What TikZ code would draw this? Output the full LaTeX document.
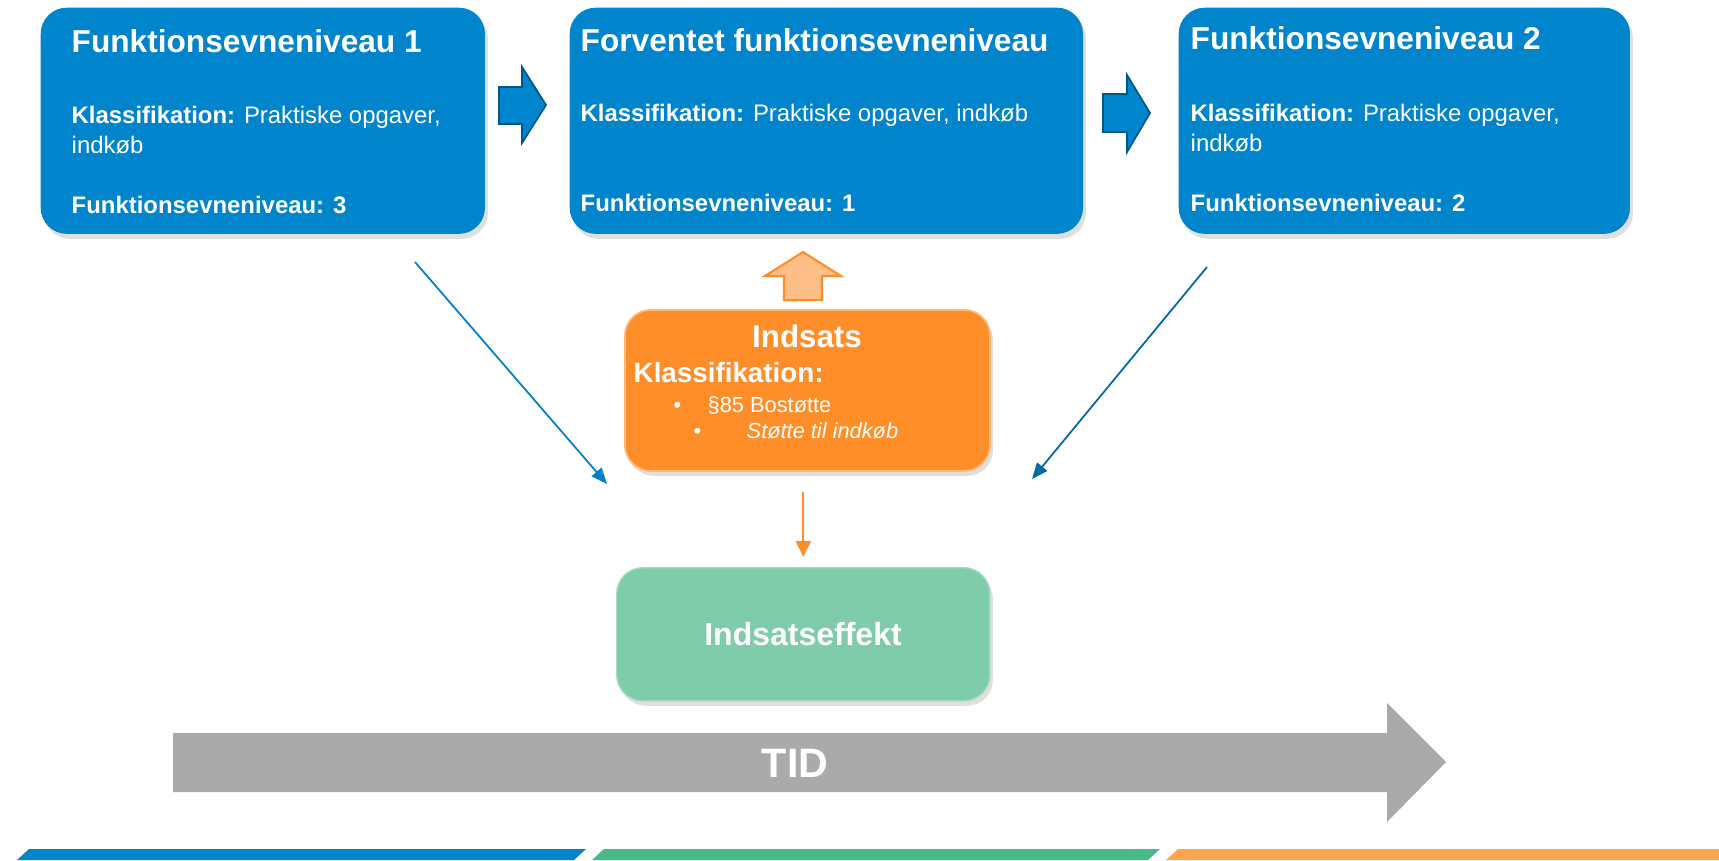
\documentclass[tikz,border=0pt]{standalone}
\usepackage{fontspec}
\setmainfont{Liberation Sans}
\usetikzlibrary{positioning, arrows.meta, shadows}

\definecolor{fnblue}{RGB}{0,133,204}
\definecolor{fndark}{RGB}{0,86,140}
\definecolor{lineblue}{RGB}{0,128,200}
\definecolor{linedark}{RGB}{0,104,164}
\definecolor{indorange}{RGB}{255,142,40}
\definecolor{indborder}{RGB}{255,184,120}
\definecolor{lightorange}{RGB}{255,190,135}
\definecolor{effgreen}{RGB}{126,204,170}
\definecolor{tidgray}{RGB}{170,170,170}
\definecolor{bandgreen}{RGB}{72,185,136}
\definecolor{bandorange}{RGB}{255,166,82}

\tikzset{
>={Triangle[length=0.16cm, width=0.13cm]}, % filled triangle heads
roundbox/.style={inner sep=0pt, rounded corners=0.26cm, anchor=north west,
  drop shadow={shadow xshift=0.03cm, shadow yshift=-0.05cm, opacity=0.25}}, % every box
fnbox/.style={roundbox, fill=fnblue, minimum height=2.26cm}, % the three level boxes
fntitle/.style={anchor=base west, inner sep=0pt, text=white, font=\bfseries\fontsize{9}{11}\selectfont},
fntext/.style={anchor=base west, inner sep=0pt, text=white, font=\fontsize{6.8}{8}\selectfont},
blockarrow/.style={fill=fnblue, draw=fndark, line width=0.5pt},
levelline/.style={->, line width=0.5pt},
}

\begin{document}
\begin{tikzpicture}[x=0.01cm, y=-0.01cm]
    \useasboundingbox (0,0) rectangle (1719,860);

    % Funktionsevneniveau 1
    \node[fnbox, minimum width=4.44cm] (fn1) at (40,7) {};
    \node[fntitle] (fn1title) at (71,52) {Funktionsevneniveau 1};
    \node[fntext] (fn1klas) at (71,123) {\textbf{Klassifikation:} Praktiske opgaver,};
    \node[fntext] (fn1ind) at (71,153) {indkøb};
    \node[fntext, font=\bfseries\fontsize{6.8}{8}\selectfont] (fn1niv) at (71,213) {Funktionsevneniveau: 3};

    % Forventet funktionsevneniveau
    \node[fnbox, minimum width=5.13cm] (fnexp) at (569,7) {};
    \node[fntitle] (fnexptitle) at (580,51) {Forventet funktionsevneniveau};
    \node[fntext] (fnexpklas) at (580,121) {\textbf{Klassifikation:} Praktiske opgaver, indkøb};
    \node[fntext, font=\bfseries\fontsize{6.8}{8}\selectfont] (fnexpniv) at (580,211) {Funktionsevneniveau: 1};

    % Funktionsevneniveau 2
    \node[fnbox, minimum width=4.51cm] (fn2) at (1178,7) {};
    \node[fntitle] (fn2title) at (1190,49) {Funktionsevneniveau 2};
    \node[fntext] (fn2klas) at (1190,121) {\textbf{Klassifikation:} Praktiske opgaver,};
    \node[fntext] (fn2ind) at (1190,151) {indkøb};
    \node[fntext, font=\bfseries\fontsize{6.8}{8}\selectfont] (fn2niv) at (1190,211) {Funktionsevneniveau: 2};

    % block arrows between the levels
    \draw[blockarrow] (499,87) -- (522,87) -- (522,67) -- (546,105) -- (522,143) -- (522,124) -- (499,124) -- cycle;
    \draw[blockarrow] (1103,94) -- (1127,94) -- (1127,75) -- (1150,113) -- (1127,152) -- (1127,132) -- (1103,132) -- cycle;

    % Indsats
    \node[roundbox, fill=indorange, draw=indborder, line width=0.5pt, minimum width=3.65cm, minimum height=1.61cm] (indsats) at (624,309) {};
    \node[text=white, anchor=base, inner sep=0pt, font=\bfseries\fontsize{8.9}{11}\selectfont] (indtitle) at (807,347) {Indsats};
    \node[fntext, font=\bfseries\fontsize{7.9}{9}\selectfont] (indklas) at (633,382) {Klassifikation:};
    \node[fntext, font=\fontsize{6.2}{7}\selectfont] (bul1) at (673,412) {•};
    \node[fntext, font=\fontsize{6.2}{7}\selectfont] (bos) at (707,412) {§85 Bostøtte};
    \node[fntext, font=\fontsize{6.2}{7}\selectfont] (bul2) at (693,438) {•};
    \node[fntext, font=\itshape\fontsize{6.2}{7}\selectfont] (stot) at (746,438) {Støtte til indkøb};
    \draw[fill=lightorange, draw=indorange, line width=0.6pt] (784,300) -- (784,276) -- (765,276) -- (803,252) -- (841,276) -- (822,276) -- (822,300) -- cycle;

    % Indsatseffekt
    \node[roundbox, fill=effgreen, draw=effgreen!70!white, line width=0.4pt, minimum width=3.73cm, minimum height=1.33cm] (effekt) at (616,567) {};
    \node[text=white, anchor=base, inner sep=0pt, font=\bfseries\fontsize{9.1}{11}\selectfont] (efftitle) at (803,645) {Indsatseffekt};

    % connectors
    \coordinate (l1start) at (415,262);
    \coordinate (l1end) at (607,484);
    \coordinate (l2start) at (1207,267);
    \coordinate (l2end) at (1032,479);
    \draw[levelline, lineblue] (l1start) -- (l1end);
    \draw[levelline, linedark] (l2start) -- (l2end);
    \draw[->, indorange, line width=0.6pt, >={Triangle[length=0.16cm, width=0.15cm]}, shorten <=0.2cm, shorten >=0.1cm] (indsats.south -| effekt.north) -- (effekt.north);

    % TID
    \fill[tidgray] (173,733) -- (1387,733) -- (1387,703) -- (1446,762) -- (1387,822) -- (1387,792) -- (173,792) -- cycle;
    \node[text=white, anchor=base, inner sep=0pt, font=\bfseries\fontsize{11.7}{14}\selectfont] (tid) at (795,777) {TID};

    % bands
    \fill[fnblue] (17,860) -- (29,849) -- (586,849) -- (574,860) -- cycle;
    \fill[bandgreen] (592,860) -- (604,849) -- (1160,849) -- (1148,860) -- cycle;
    \fill[bandorange] (1166,860) -- (1178,849) -- (1719,849) -- (1719,860) -- cycle;
\end{tikzpicture}
\end{document}
